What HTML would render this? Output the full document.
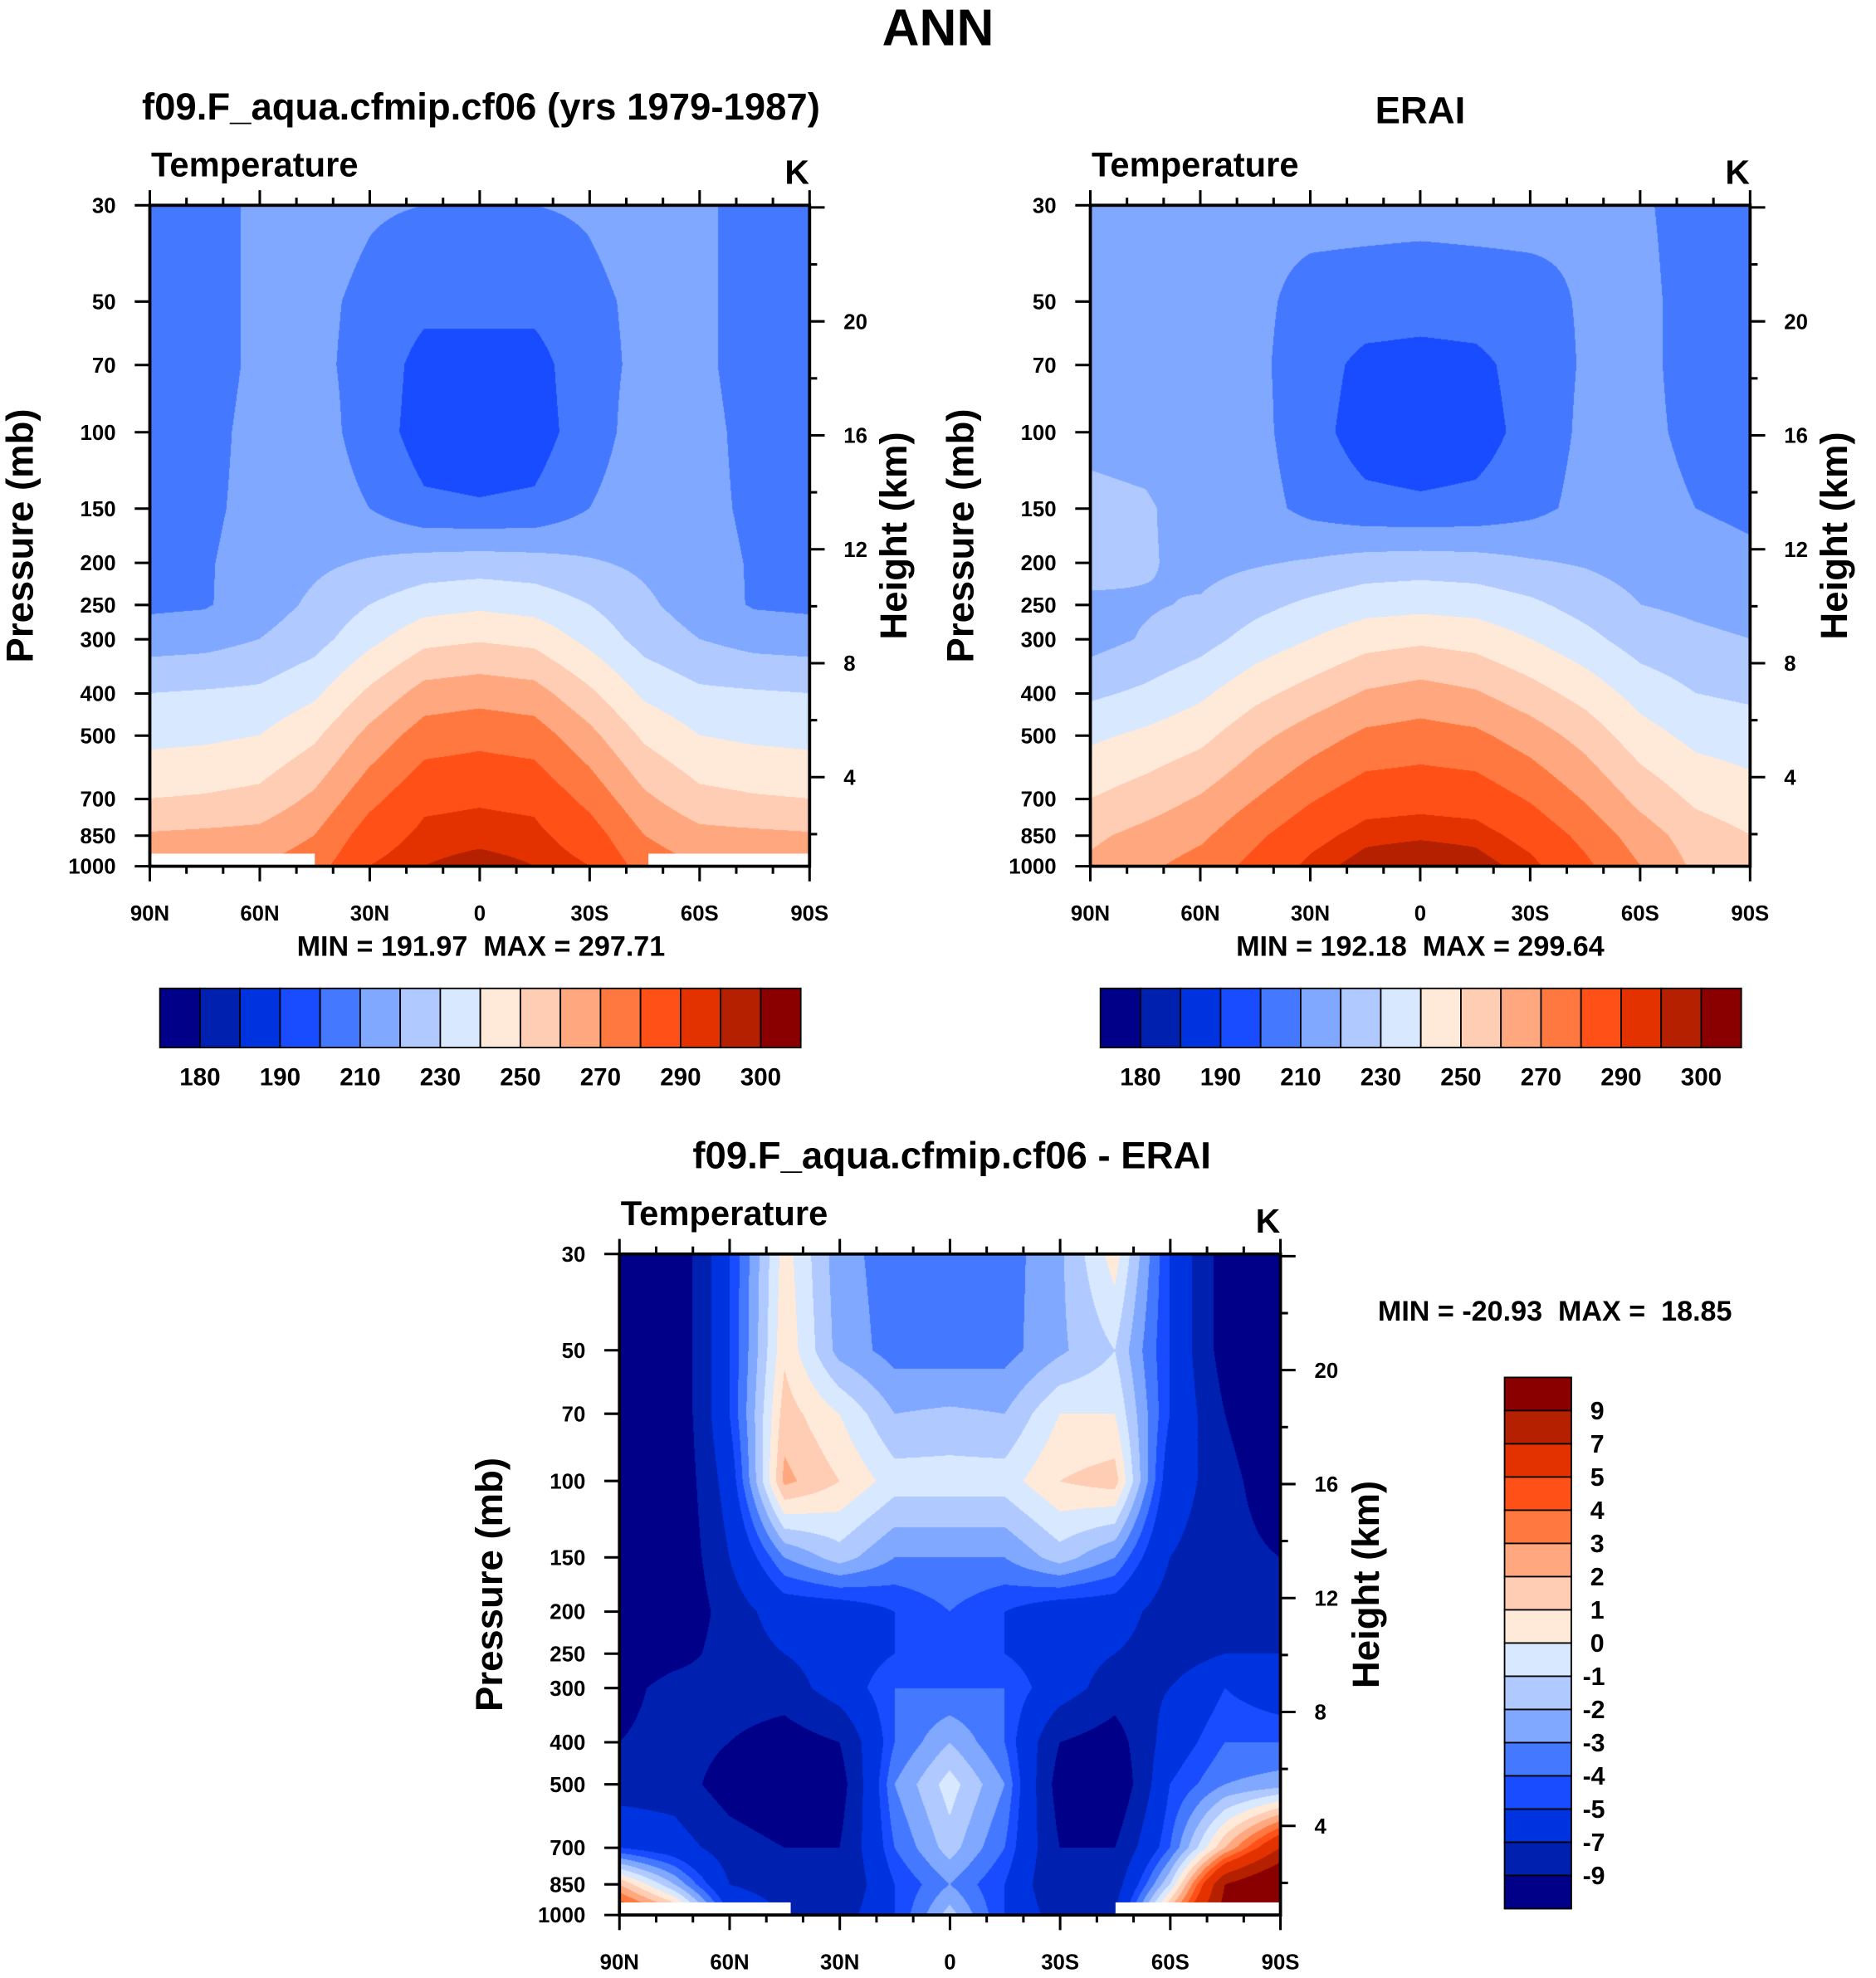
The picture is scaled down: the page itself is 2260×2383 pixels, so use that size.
<!DOCTYPE html>
<html><head><meta charset="utf-8"><style>
html,body{margin:0;padding:0;background:#fff}
#wrap{position:relative;width:2260px;height:2383px;overflow:hidden}
canvas{position:absolute}
svg{position:absolute;left:0;top:0}
text{font-family:"Liberation Sans",Arial,sans-serif;font-weight:bold;fill:#000;white-space:pre}
</style></head><body>
<div id="wrap">
<canvas id="c1"></canvas>
<canvas id="c2"></canvas>
<canvas id="c3"></canvas>
<svg id="sv" width="2260" height="2383" viewBox="0 0 1490 1571"></svg>
</div>
<script>
// ---- data ----
const lats = [90,75,60,45,30,15,0,-15,-30,-45,-60,-75,-90];
const levels = [30,50,70,100,150,200,250,300,400,500,700,850,1000];
// model temperature (K), rows = latitude, cols = pressure levels
const modelT = [
[205,205,205,206,207,208,208,215,230,237,250,261,268],
[206,206,206,207,208,209,209,216,231,238,251,262,268],
[212,212,212,213,213,214,215,220,232,240,253,263,270],
[214,212,212,214,215,218,222,226,238,248,262,270,276],
[211,208,207,206,210,221,230,237,252,263,277,285,290],
[210,203,196,195,202,224,236,247,264,275,288,292,295],
[210,203,196,194,201,225,238,249,266,277,289,293,297.5],
[210,203,196,195,202,224,236,247,264,275,288,292,295],
[211,208,207,206,210,221,230,237,252,263,277,285,290],
[214,212,212,214,215,218,222,226,238,248,262,270,276],
[212,212,212,213,213,214,215,220,232,240,253,263,270],
[206,206,206,207,208,209,209,216,231,238,251,262,268],
[205,205,205,206,207,208,208,215,230,237,250,261,268]];
const eraT = [
[215,216,217,218,222,224,218,216,228,238,250,258,262],
[214,215,216,217,221,221,219,221,232,242,255,263,268],
[213,212,213,215,216,217,221,226,238,247,261,268,274],
[212,212,212,213,214,219,227,234,247,257,270,278,283],
[213,207,205,204,207,221,232,240,254,265,279,287,292],
[213,206,197,195,203,224,236,246,261,272,286,293,298],
[213,205,196,193,202,225,237,248,264,274,287,294,300],
[213,206,197,195,203,224,236,246,261,272,286,293,298],
[213,207,205,204,207,221,232,240,254,265,279,287,292],
[211,211,211,212,213,219,226,233,246,256,269,277,282],
[211,212,212,212,213,216,220,225,236,244,257,265,270],
[207,207,207,208,210,214,218,222,230,237,248,255,258],
[205,205,206,206,208,212,216,220,228,235,244,250,253]];
const diffT = [
[-12,-12,-12,-12,-12,-12,-11,-10,-9,-8,-5,2,6],
[-11,-11,-11,-11,-11,-11,-10,-8,-8,-8,-6,-2,3],
[-5,-5,-5,-6,-7,-8,-8,-8,-9,-10,-8,-7,-5],
[0.5,0.8,1.5,2.3,-3,-6,-7,-8,-10,-11,-9,-8,-7],
[-2.6,-2.4,0,1,-1.5,-6,-6,-6,-9,-10,-9,-9,-8],
[-3.5,-3.4,-2,-0.5,-3,-5,-5,-4,-4,-3,-4,-5,-5],
[-3.5,-3.5,-1.8,-0.5,-3,-4,-4,-4,-2,-0.5,-1.5,-3,-1.5],
[-3.5,-3.4,-2,-0.5,-3,-5,-5,-4,-4,-3,-4,-5,-5],
[-2.2,-2.2,0,1,-1.5,-6,-6,-6,-9,-10,-9,-9,-8],
[0.5,-1,0,1.5,-3,-6,-7,-8,-10,-11,-9,-8,-7],
[-5,-5,-5,-6,-7,-8,-8,-7,-6,-5,-4,-1,3],
[-10,-10,-9,-8,-8,-8,-7,-5,-4,-3,2,9,10],
[-12,-12,-12,-11,-9,-8,-7,-6,-4,-2.5,7,12,12]];
const tempLevels = [180,185,190,200,210,220,230,240,250,260,270,280,290,295,300];
const tempTickLabels = ["180","190","210","230","250","270","290","300"];
const diffLevels = [-9,-7,-5,-4,-3,-2,-1,0,1,2,3,4,5,7,9];
const latLabels = ["90N","60N","30N","0","30S","60S","90S"];
const presLabels = [30,50,70,100,150,200,250,300,400,500,700,850,1000];
const heightLabels = [20,16,12,8,4];
const palette = ["#000088","#0020b0","#0033e0","#1a4cff","#4478ff","#80a8ff","#b0caff","#d8e8ff",
"#ffeada","#ffcdb3","#ffa880","#ff7840","#ff5018","#e33200","#b52000","#8a0000"];

// ---- helpers ----
const S = 2260/1490;
const NS="http://www.w3.org/2000/svg";
const sv=document.getElementById('sv');
function el(tag,attrs,parent){const e=document.createElementNS(NS,tag);for(const k in attrs)e.setAttribute(k,attrs[k]);(parent||sv).appendChild(e);return e;}
function txt(x,y,s,size,anchor,parent,rot){const t=el('text',{x:x,y:y,'font-size':size,'text-anchor':anchor||'middle'},parent);if(rot)t.setAttribute('transform','rotate(-90 '+x+' '+y+')');t.textContent=s;return t;}
const lp0=Math.log(30),lp1=Math.log(1000);
function yOfP(p,y0,y1){return y0+(Math.log(p)-lp0)/(lp1-lp0)*(y1-y0);}
function xOfLat(lat,x0,x1){return x0+(90-lat)/180*(x1-x0);}
function pOfH(h){return 1141*Math.exp(-h/6.617);}
function colorIdx(v,lv){let i=0;while(i<lv.length&&v>=lv[i])i++;return i;}
const logL=levels.map(Math.log);
function sample(grid,lat,p){
  let fi=(90-lat)/15; if(fi<0)fi=0; if(fi>12)fi=12;
  let i=Math.min(11,Math.floor(fi)); let a=fi-i;
  let lp=Math.log(p); let j=0; while(j<11&&lp>logL[j+1])j++;
  let b=(lp-logL[j])/(logL[j+1]-logL[j]); b=Math.max(0,Math.min(1,b));
  const g=grid;
  return (1-a)*((1-b)*g[i][j]+b*g[i][j+1])+a*((1-b)*g[i+1][j]+b*g[i+1][j+1]);
}
function drawField(id,grid,lv,x0,y0,x1,y1){
  const c=document.getElementById(id);
  const L=Math.round(x0*S),T=Math.round(y0*S),W=Math.round((x1-x0)*S),H=Math.round((y1-y0)*S);
  c.width=W;c.height=H;c.style.left=L+'px';c.style.top=T+'px';
  const ctx=c.getContext('2d');const img=ctx.createImageData(W,H);
  const rgb=palette.map(h=>[parseInt(h.slice(1,3),16),parseInt(h.slice(3,5),16),parseInt(h.slice(5,7),16)]);
  for(let py=0;py<H;py++){const p=Math.exp(lp0+(py+0.5)/H*(lp1-lp0));
    for(let px=0;px<W;px++){const lat=90-(px+0.5)/W*180;
      const v=sample(grid,lat,p);const k=colorIdx(v,lv);const o=(py*W+px)*4;
      img.data[o]=rgb[k][0];img.data[o+1]=rgb[k][1];img.data[o+2]=rgb[k][2];img.data[o+3]=255;}}
  ctx.putImageData(img,0,0);
}
function axes(name,x0,y0,x1,y1,mask,plabX,hlabX){
  const g=el('g',{});
  if(mask){const m=el('g',{},g);
    mask.forEach(r=>el('rect',{x:r[0],y:y1-10,width:r[1]-r[0],height:10,fill:'#fff'},m));}
  el('rect',{x:x0,y:y0,width:x1-x0,height:y1-y0,fill:'none',stroke:'#000','stroke-width':2.5},g);
  const xt=el('g',{},g);
  for(let lat=90;lat>=-90;lat-=10){const x=xOfLat(lat,x0,x1);const major=lat%30===0;const len=major?12:6;
    el('line',{x1:x,y1:y0,x2:x,y2:y0-len,stroke:'#000','stroke-width':2},xt);
    el('line',{x1:x,y1:y1,x2:x,y2:y1+len,stroke:'#000','stroke-width':2},xt);}
  latLabels.forEach((s,i)=>{const x=x0+i*(x1-x0)/6;txt(x,y1+43,s,17,'middle',xt);});
  const yt=el('g',{},g);
  presLabels.forEach(p=>{const y=yOfP(p,y0,y1);el('line',{x1:x0,y1:y,x2:x0-12,y2:y,stroke:'#000','stroke-width':2},yt);
    txt(x0-27,y+6,String(p),17,'end',yt);});
  const ht=el('g',{},g);
  for(let h=2;h<=24;h+=2){const p=pOfH(h);if(p<30||p>1000)continue;const y=yOfP(p,y0,y1);
    el('line',{x1:x1,y1:y,x2:x1+(h%4===0?12:6),y2:y,stroke:'#000','stroke-width':2},ht);}
  heightLabels.forEach(h=>{const y=yOfP(pOfH(h),y0,y1);txt(x1+27,y+6,String(h),17,'start',ht);});
  const pl=txt(plabX,(y0+y1)/2,'Pressure (mb)',30,'middle',g,true);
  const hl=txt(hlabX,(y0+y1)/2,'Height (km)',30,'middle',g,true);
  txt(x0+1,y0-23,'Temperature',27.5,'start',g);
  txt(x1-10,y0-17,'K',27,'middle',g);
}
function hbar(name,x0,y0,w,h){
  const g=el('g',{});const bw=w/16;
  palette.forEach((c,i)=>el('rect',{x:x0+i*bw,y:y0,width:bw,height:h,fill:c,stroke:'#000','stroke-width':1.2},g));
  tempTickLabels.forEach((s,k)=>txt(x0+(2*k+1)*bw,y0+h+30,s,19.5,'middle',g));
}
// ---- draw ----
drawField('c1',modelT,tempLevels,119,163,643,688);
drawField('c2',eraT,tempLevels,866,163,1390,688);
drawField('c3',diffT,diffLevels,492,996,1017,1521);
txt(745,36,'ANN',41,'middle');
txt(382,95,'f09.F_aqua.cfmip.cf06 (yrs 1979-1987)',30,'middle');
txt(1128,98,'ERAI',30,'middle');
txt(756,928,'f09.F_aqua.cfmip.cf06 - ERAI',30,'middle');
axes('model',119,163,643,688,[[119,250],[515,643]],26,720);
axes('erai',866,163,1390,688,null,773,1467);
axes('diff',492,996,1017,1521,[[492,628],[886,1017]],399,1095);
txt(382,759,'MIN = 191.97  MAX = 297.71',22.5,'middle');
txt(1128,759,'MIN = 192.18  MAX = 299.64',22.5,'middle');
txt(1235,1049,'MIN = -20.93  MAX =  18.85',22.5,'middle');
hbar('model-colorbar',127,785,509,47);
hbar('erai-colorbar',874,785,509,47);
(function(){const g=el('g',{});
  const x0=1195,y0=1094,w=53,h=422,bh=h/16;
  for(let i=0;i<16;i++)el('rect',{x:x0,y:y0+i*bh,width:w,height:bh,fill:palette[15-i],stroke:'#000','stroke-width':1.2},g);
  for(let i=0;i<15;i++){const v=diffLevels[14-i];txt(v<0?1257:1263,y0+(i+1)*bh+7,String(v),20,'start',g);}
})();
</script>
</body></html>
